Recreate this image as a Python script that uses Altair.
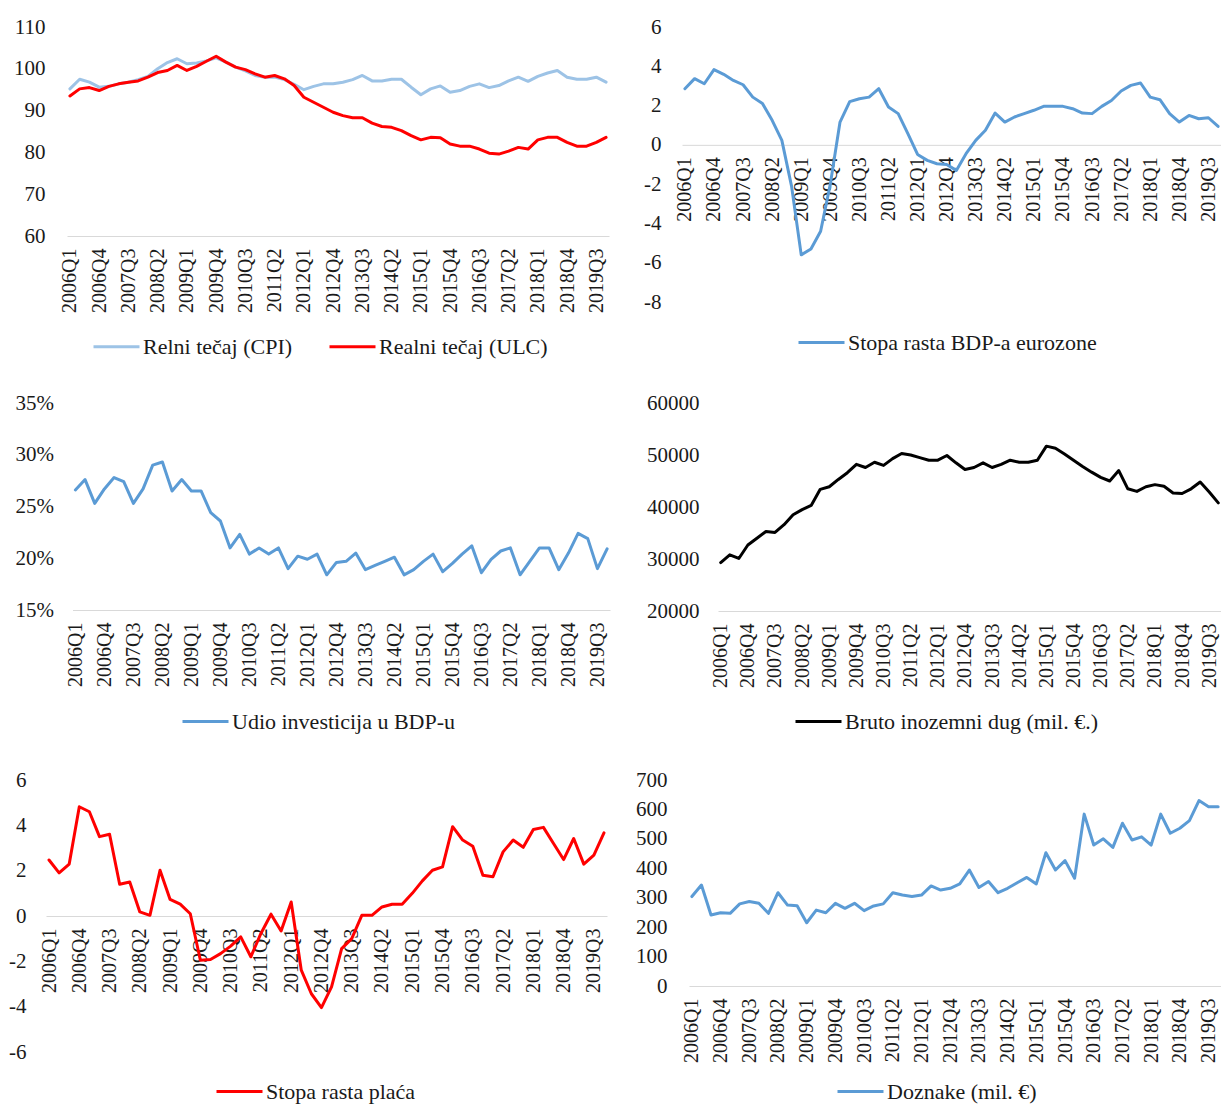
import altair as alt
import pandas as pd

years = list(range(2006, 2020))
quarters = [f"{y}Q{q}" for y in years for q in (1, 2, 3, 4)]
tick_labels = ["2006Q1", "2006Q4", "2007Q3", "2008Q2", "2009Q1", "2009Q4", "2010Q3",
               "2011Q2", "2012Q1", "2012Q4", "2013Q3", "2014Q2", "2015Q1", "2015Q4",
               "2016Q3", "2017Q2", "2018Q1", "2018Q4", "2019Q3"]

cpi = [95.2, 97.5, 96.8, 95.6, 95.8, 96.4, 96.8, 97.4, 98.2, 100.0, 101.5, 102.4, 101.2, 101.4,
       101.9, 102.6, 101.6, 100.4, 99.5, 98.4, 98.0, 98.0, 97.4, 96.3, 95.0, 95.8, 96.4, 96.4,
       96.8, 97.4, 98.4, 97.1, 97.1, 97.5, 97.5, 95.6, 93.8, 95.2, 95.9, 94.4, 94.8, 95.8, 96.4,
       95.5, 96.0, 97.1, 98.0, 97.0, 98.2, 99.0, 99.6, 98.0, 97.5, 97.5, 98.0, 96.8]
ulc = [93.5, 95.2, 95.5, 94.8, 95.8, 96.4, 96.8, 97.1, 98.0, 99.1, 99.6, 100.8, 99.6, 100.6,
       101.8, 103.0, 101.6, 100.4, 99.8, 98.8, 98.0, 98.4, 97.6, 96.0, 93.2, 92.0, 90.8, 89.6,
       88.8, 88.3, 88.3, 87.0, 86.2, 86.0, 85.2, 84.0, 83.0, 83.6, 83.5, 82.0, 81.5, 81.5, 80.8,
       79.8, 79.6, 80.3, 81.2, 80.8, 83.0, 83.6, 83.6, 82.4, 81.5, 81.5, 82.4, 83.6]
gdp = [2.86, 3.37, 3.11, 3.83, 3.59, 3.28, 3.06, 2.43, 2.1, 1.25, 0.23, -2.1, -5.6, -5.3, -4.4,
       -2.0, 1.16, 2.2, 2.35, 2.43, 2.86, 1.93, 1.59, 0.57, -0.49, -0.79, -0.96, -1.0, -1.3, -0.45,
       0.23, 0.74, 1.62, 1.16, 1.42, 1.59, 1.76, 1.96, 1.96, 1.96, 1.84, 1.62, 1.59, 1.96, 2.26,
       2.74, 3.03, 3.15, 2.43, 2.3, 1.59, 1.16, 1.5, 1.33, 1.38, 0.94]
inv = [26.6, 27.6, 25.3, 26.7, 27.8, 27.4, 25.3, 26.7, 29.0, 29.3, 26.5, 27.6, 26.5, 26.5, 24.4,
       23.6, 21.0, 22.3, 20.4, 21.0, 20.4, 21.0, 19.0, 20.2, 19.9, 20.4, 18.4, 19.6, 19.7, 20.5,
       18.9, 19.3, 19.7, 20.1, 18.4, 18.9, 19.7, 20.4, 18.7, 19.5, 20.4, 21.2, 18.6, 19.9, 20.7,
       21.0, 18.4, 19.7, 21.0, 21.0, 18.9, 20.5, 22.4, 21.9, 19.0, 20.9]
debt = [29300, 30800, 30100, 32700, 34000, 35300, 35100, 36600, 38500, 39500, 40300, 43400,
        43900, 45300, 46600, 48200, 47600, 48600, 48000, 49300, 50300, 50000, 49500, 49000,
        49000, 49900, 48500, 47200, 47600, 48500, 47600, 48200, 49000, 48600, 48600, 49000,
        51700, 51300, 50200, 49000, 47800, 46700, 45700, 45000, 47000, 43500, 43000, 43900,
        44300, 44000, 42700, 42600, 43500, 44800, 42900, 40800]
wages = [2.47, 1.9, 2.29, 4.82, 4.6, 3.5, 3.61, 1.4, 1.5, 0.18, 0.03, 2.02, 0.73, 0.52, 0.1,
         -1.95, -1.92, -1.66, -1.33, -0.92, -1.8, -0.77, 0.08, -0.66, 0.62, -2.39, -3.43, -4.04,
         -3.13, -1.44, -1.0, 0.03, 0.03, 0.4, 0.52, 0.52, 1.0, 1.55, 2.02, 2.17, 3.94, 3.35, 3.08,
         1.8, 1.73, 2.83, 3.35, 3.03, 3.82, 3.91, 3.2, 2.49, 3.42, 2.29, 2.69, 3.67]
remit = [304, 343, 241, 249, 247, 279, 287, 281, 247, 317, 275, 273, 215, 258, 249, 281, 264,
         281, 256, 272, 279, 317, 309, 304, 309, 340, 326, 332, 347, 394, 335, 355, 317, 332,
         351, 369, 347, 453, 394, 426, 366, 584, 479, 500, 471, 553, 496, 507, 479, 584, 519,
         536, 562, 630, 609, 609]

FONT = "Liberation Serif"
TXT = "#1a1a1a"
AXIS_GRAY = "#D9D9D9"
W_TOTAL = 1213
H_TOTAL = 1098


def panel(series, names, colors, ymin, ymax, ystep, x0, x1, ytop, ybot, lab_pad,
          legend_x, legend_y, zero_axis=False, suffix="", col_pad=30):
    rows = []
    for name, vals in zip(names, series):
        for q, v in zip(quarters, vals):
            rows.append({"q": q, "v": v, "s": name})
    df = pd.DataFrame(rows)
    if zero_axis:
        axis_y = ytop + (ymax - 0) / (ymax - ymin) * (ybot - ytop)
    else:
        axis_y = ybot
    xaxis = alt.Axis(orient="bottom", offset=axis_y - H_TOTAL, values=tick_labels,
                     labelAngle=270, labelAlign="right", labelBaseline="middle",
                     ticks=False, tickSize=0, labelPadding=12, domainColor=AXIS_GRAY,
                     domainWidth=1, labelFont=FONT, labelFontSize=20, labelColor=TXT,
                     title=None, grid=False, labelOverlap=False)
    yaxis = alt.Axis(orient="left", offset=-x0, values=list(range(ymin, ymax + 1, ystep)),
                     ticks=False, tickSize=0, domain=False, grid=False, labelPadding=lab_pad,
                     labelFont=FONT, labelFontSize=21, labelColor=TXT, title=None,
                     labelOverlap=False, labelExpr="'' + datum.value + '" + suffix + "'")
    legend = alt.Legend(orient="none", legendX=legend_x, legendY=legend_y,
                        direction="horizontal", title=None, symbolType="stroke",
                        symbolSize=2116, symbolStrokeWidth=3, labelFont=FONT,
                        labelFontSize=22, labelColor=TXT, columnPadding=col_pad,
                        labelOffset=2, padding=0, labelLimit=500)
    return alt.Chart(df).mark_line(strokeWidth=3, strokeJoin="round", strokeCap="round").encode(
        x=alt.X("q:O", sort=quarters,
                scale=alt.Scale(type="point", padding=0.3, range=[x0, x1]), axis=xaxis),
        y=alt.Y("v:Q", scale=alt.Scale(domain=[ymin, ymax], range=[ybot, ytop],
                                       nice=False, zero=False), axis=yaxis),
        color=alt.Color("s:N", sort=names, scale=alt.Scale(domain=names, range=colors),
                        legend=legend),
    )


p1 = panel([cpi, ulc], ["Relni tečaj (CPI)", "Realni tečaj (ULC)"], ["#9DC3E6", "#FF0000"],
           60, 110, 10, 59, 601, 19, 228, 22, 84, 314)
p2 = panel([gdp], ["Stopa rasta BDP-a eurozone"], ["#5B9BD5"],
           -8, 6, 2, 674, 1213, 19, 294, 21, 789, 310, zero_axis=True)
p3 = panel([inv], ["Udio investicija u BDP-u"], ["#5B9BD5"],
           15, 35, 5, 64.5, 602, 395, 602, 19, 173, 689, suffix="%")
p4 = panel([debt], ["Bruto inozemni dug (mil. €.)"], ["#000000"],
           20000, 60000, 10000, 710, 1213, 395, 603, 19, 786, 689)
p5 = panel([wages], ["Stopa rasta plaća"], ["#FF0000"],
           -6, 6, 2, 38, 599, 772, 1044, 20, 207, 1059, zero_axis=True)
p6 = panel([remit], ["Doznake (mil. €)"], ["#5B9BD5"],
           0, 700, 100, 681, 1213, 772, 978, 22, 828, 1059)

chart = alt.layer(p1, p2, p3, p4, p5, p6).resolve_scale(
    x="independent", y="independent", color="independent"
).resolve_axis(
    x="independent", y="independent"
).resolve_legend(
    color="independent"
).properties(
    width=W_TOTAL, height=H_TOTAL,
    padding={"left": 0, "top": 0, "right": 0, "bottom": 0}
).configure(
    background="white", font=FONT
).configure_view(strokeWidth=0)

chart.save("out.html", embed_options={"renderer": "svg", "actions": False})
